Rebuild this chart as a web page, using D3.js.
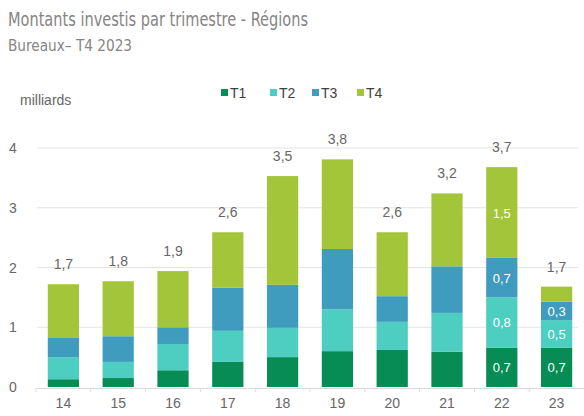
<!DOCTYPE html>
<html>
<head>
<meta charset="utf-8">
<script src="https://cdn.jsdelivr.net/npm/d3@7"></script>
<style>
  body { margin: 0; background: #fff; }
  svg text { font-family: "Liberation Sans", Arial, sans-serif; }
</style>
</head>
<body>
<svg></svg>
<script>
// chart values
var years  = ['14','15','16','17','18','19','20','21','22','23'];
var series = ['T1','T2','T3','T4'];
var t1 = [0.13, 0.15, 0.28, 0.42, 0.50, 0.60, 0.62, 0.59, 0.66, 0.66];
var t2 = [0.37, 0.27, 0.44, 0.52, 0.49, 0.70, 0.47, 0.65, 0.84, 0.46];
var t3 = [0.32, 0.43, 0.28, 0.72, 0.72, 1.01, 0.43, 0.78, 0.66, 0.31];
var t4 = [0.90, 0.92, 0.94, 0.93, 1.82, 1.50, 1.07, 1.22, 1.52, 0.25];
var yTicks = [0, 1, 2, 3, 4];
var labelledYears = ['22', '23'];  // bars with values written inside
var colors = ['#078c55', '#4ecdc1', '#3f9cbf', '#a3c53a'];

var svgwidth = 584, svgheight = 416;
var svg = d3.select('svg').attr('width', svgwidth).attr('height', svgheight);

var rows = years.map(function(y, i){
	return {year: y, T1: t1[i], T2: t2[i], T3: t3[i], T4: t4[i]};
});
var stacked = d3.stack().keys(series)(rows);

var x = d3.scaleBand().domain(years).range([36, 584]).paddingInner(0.43).paddingOuter(0.215);
var y = d3.scaleLinear().domain([0, 4]).range([387, 148]);
var fmt = function(v){ return d3.format('.1f')(v).replace('.', ','); };

// title
svg.append('text').attr('x', 8).attr('y', 26)
	.style('font-family', '"Liberation Sans Narrow", "DejaVu Sans Condensed", sans-serif')
	.attr('font-size', 19).attr('fill', '#858585')
	.attr('textLength', 300).attr('lengthAdjust', 'spacingAndGlyphs')
	.text('Montants investis par trimestre - Régions');
svg.append('text').attr('x', 8).attr('y', 51)
	.style('font-family', '"Liberation Sans Narrow", "DejaVu Sans Condensed", sans-serif')
	.attr('font-size', 16).attr('fill', '#858585')
	.attr('textLength', 124).attr('lengthAdjust', 'spacingAndGlyphs')
	.text('Bureaux– T4 2023');

// unit
svg.append('text').attr('x', 20).attr('y', 105)
	.attr('font-size', 14).attr('fill', '#666').text('milliards');

// legend
var legendX = [221, 270, 312, 357];
var legend = svg.selectAll('.legend').data(series).enter().append('g')
	.attr('transform', function(d, i){ return 'translate(' + legendX[i] + ',0)'; });
legend.append('rect').attr('x', 0).attr('y', 89).attr('width', 7).attr('height', 7)
	.attr('fill', function(d, i){ return colors[i]; });
legend.append('text').attr('x', 9).attr('y', 98).attr('font-size', 14)
	.attr('fill', '#404040').text(function(d){ return d; });

// grid + y labels
svg.selectAll('.grid').data(yTicks.filter(function(d){ return d > 0; })).enter().append('line')
	.attr('x1', 37).attr('x2', 578)
	.attr('y1', function(d){ return y(d); }).attr('y2', function(d){ return y(d); })
	.attr('stroke', '#e3e3e3').attr('stroke-width', 1);
svg.selectAll('.ylab').data(yTicks).enter().append('text')
	.attr('x', 13).attr('y', function(d){ return y(d) + 5; })
	.attr('text-anchor', 'middle').attr('font-size', 14).attr('fill', '#666')
	.text(function(d){ return d; });

// bars
var layers = svg.selectAll('.layer').data(stacked).enter().append('g')
	.attr('fill', function(d, i){ return colors[i]; });
layers.selectAll('rect').data(function(d){ return d; }).enter().append('rect')
	.attr('x', function(d){ return x(d.data.year); })
	.attr('y', function(d){ return y(d[1]); })
	.attr('width', x.bandwidth())
	.attr('height', function(d){ return y(d[0]) - y(d[1]); });

// values inside the last bars
layers.selectAll('.inner').data(function(d){
		return d.filter(function(s){ return labelledYears.indexOf(s.data.year) >= 0 && s[1] - s[0] > 0.28; });
	}).enter().append('text')
	.attr('x', function(d){ return x(d.data.year) + x.bandwidth() / 2; })
	.attr('y', function(d){ return (y(d[0]) + y(d[1])) / 2 + 5; })
	.attr('text-anchor', 'middle').attr('font-size', 13).attr('fill', '#ffffff')
	.text(function(d){ return fmt(d[1] - d[0]); });

// totals
svg.selectAll('.total').data(rows).enter().append('text')
	.attr('x', function(d){ return x(d.year) + x.bandwidth() / 2; })
	.attr('y', function(d){ return y(d.T1 + d.T2 + d.T3 + d.T4) - 15; })
	.attr('text-anchor', 'middle').attr('font-size', 14).attr('fill', '#666')
	.text(function(d){ return fmt(d.T1 + d.T2 + d.T3 + d.T4); });

// x axis
var xAxis = svg.append('g').attr('transform', 'translate(0,388)')
	.call(d3.axisBottom(x).tickSize(0).tickPadding(10));
xAxis.select('.domain').attr('stroke', '#d9d9d9');
xAxis.selectAll('text').attr('font-size', 14).attr('fill', '#666')
	.style('font-family', '"Liberation Sans", Arial, sans-serif');
svg.selectAll('.minor').data(years).enter().append('line')
	.attr('x1', function(d){ return x(d) - x.step() * x.paddingInner() / 2; })
	.attr('x2', function(d){ return x(d) - x.step() * x.paddingInner() / 2; })
	.attr('y1', 388).attr('y2', 392).attr('stroke', '#d9d9d9');
</script>
</body>
</html>
